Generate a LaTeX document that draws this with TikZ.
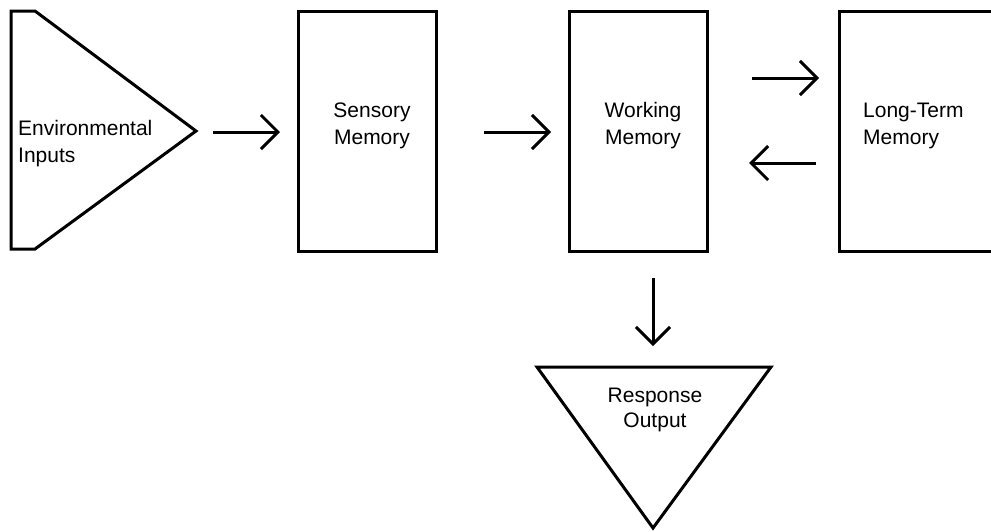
\documentclass[tikz,border=0pt]{standalone}
\usepackage{fontspec}
\setmainfont{Liberation Sans}
\usetikzlibrary{arrows.meta}

\begin{document}
\begin{tikzpicture}[x=1pt,y=-1pt,
  shapeline/.style={draw=black,line width=3pt,line join=miter},
  flow/.style={draw=black,line width=3pt,
    -{Straight Barb[length=17pt,width=34pt,line width=3pt]}},
  lbl/.style={font=\fontsize{21}{27}\selectfont,inner sep=0pt},
  box/.style={shapeline,rectangle,minimum width=138pt,minimum height=240pt,inner sep=0pt}
]
\useasboundingbox (0,0) rectangle (991,531);

% environmental inputs: pentagon pointing right
\draw[shapeline] (11,11) -- (35,11) -- (196,131) -- (35,249) -- (11,249) -- cycle;
\node[lbl,anchor=north west,align=left] (envtext) at (18,120) {Environmental\\Inputs};

% memory stores
\node[box] (sens) at (367,131) {};
\node[box] (work) at (638,131) {};
\draw[shapeline] (1000,11) -- (839,11) -- (839,251) -- (1000,251);
\coordinate (ltm) at (839,131);

\node[lbl,align=center,anchor=north] (senstext) at (372,103) {Sensory\\Memory};
\node[lbl,align=center,anchor=north] (worktext) at (643,102) {Working\\Memory};
\node[lbl,align=left,anchor=north west] (ltmtext) at (863,103) {Long-Term\\Memory};

% response output: downward triangle
\draw[shapeline] (537,367) -- (771,367) -- (653,528) -- cycle;
\node[lbl,align=center,anchor=north,font=\fontsize{21}{25}\selectfont] (resptext) at (655,388) {Response\\Output};

% arrow end points
\coordinate (e1s) at (213,132); \coordinate (e1e) at (280,132);
\coordinate (e2s) at (484,132); \coordinate (e2e) at (551,132);
\coordinate (e3s) at (752,78);  \coordinate (e3e) at (819,78);
\coordinate (e4s) at (816,163); \coordinate (e4e) at (749,163);
\coordinate (e5s) at (653,278); \coordinate (e5e) at (653,346);

\draw[flow] (e1s) -- (e1e);
\draw[flow] (e2s) -- (e2e);
\draw[flow] (e3s) -- (e3e);
\draw[flow] (e4s) -- (e4e);
\draw[flow] (e5s) -- (e5e);
\end{tikzpicture}
\end{document}
